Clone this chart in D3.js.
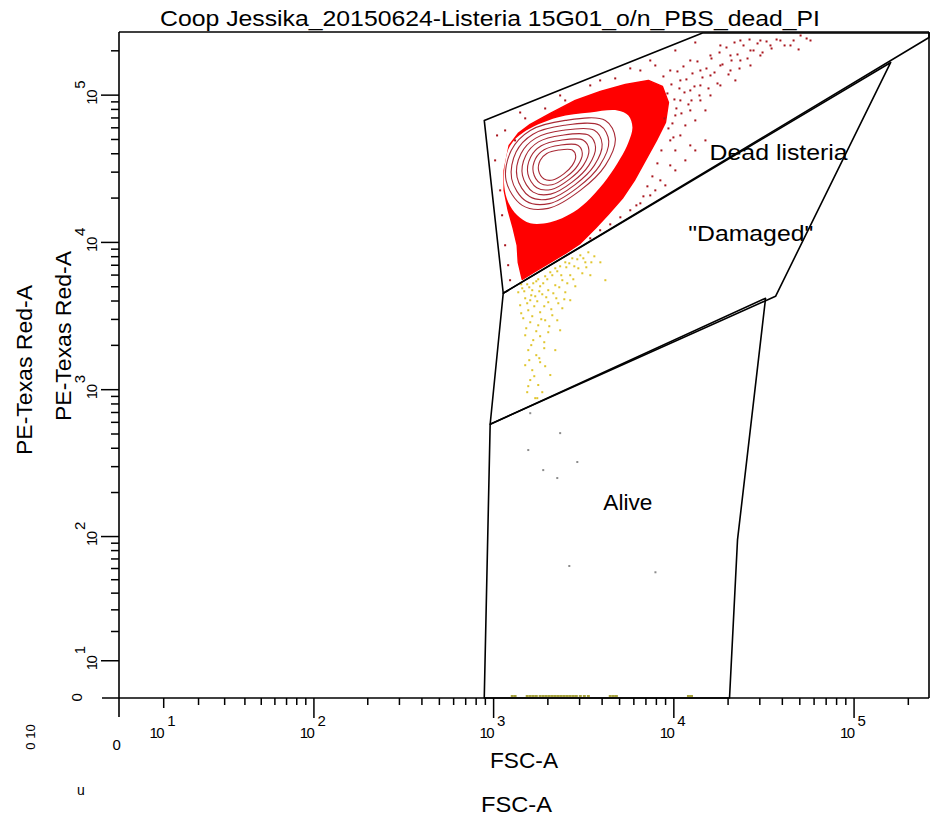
<!DOCTYPE html>
<html>
<head>
<meta charset="utf-8">
<script src="https://cdn.jsdelivr.net/npm/d3@7"></script>
<style>
  body { margin: 0; background: #fff; }
  svg text { font-family: "Liberation Sans", Arial, sans-serif; fill: #000; }
  .tick-label { font-size: 15px; letter-spacing: -1.5px; }
</style>
</head>
<body>
<svg id="chart" width="932" height="817"></svg>
<script>
const title = 'Coop Jessika_20150624-Listeria 15G01_o/n_PBS_dead_PI';
const xLabel = 'FSC-A';
const yLabel = 'PE-Texas Red-A';
const axisMax = 262144;

const majorTicks = [10, 100, 1000, 10000, 100000];
const majorExponents = ['1', '2', '3', '4', '5'];
const minorTicks = [20, 30, 40, 50, 60, 70, 80, 90,
                    200, 300, 400, 500, 600, 700, 800, 900,
                    2000, 3000, 4000, 5000, 6000, 7000, 8000, 9000,
                    20000, 30000, 40000, 50000, 60000, 70000, 80000, 90000,
                    200000];

// gates [FSC-A, PE-Texas Red-A]
const deadGate = [[893, 66830], [14510, 262144], [262144, 262144], [262144, 244300], [1138, 4479]];
const damagedGate = [[1138, 4479], [160700, 165400], [36910, 4274], [963, 578]];
const aliveGate = [[963, 578], [32490, 4143], [22700, 94], [20500, 0], [893, 0]];

const gateLabels = [
  { name: 'Dead listeria', x: 15900, y: 36000, width: 138 },
  { name: '"Damaged"', x: 12100, y: 10100, width: 125 },
  { name: 'Alive', x: 4090, y: 150, width: 49 }
];

// dense part of the dead population and the white core inside the outer contour
const denseRed = [[1167, 33090], [1228, 45230], [1379, 54550], [1607, 62780], [2076, 74580],
  [2858, 91350], [3936, 105100], [5418, 117300], [7273, 124900], [8698, 113700],
  [9393, 88530], [9040, 64770], [8057, 48900], [6998, 35780], [6080, 26180],
  [5214, 19760], [4359, 15390], [3692, 12370], [3047, 9784], [2515, 8369],
  [2076, 7270], [1713, 6318], [1451, 5576], [1379, 7270], [1361, 9490],
  [1293, 12370], [1213, 16400], [1152, 22390], [1152, 30600]];
const coreWhite = [[1152, 24210], [1167, 34670], [1245, 45230], [1470, 55410], [2270, 70030],
  [3463, 75740], [4891, 78150], [5631, 72260], [5930, 59910], [5631, 47400],
  [5083, 36920], [4305, 27010], [3463, 19760], [2786, 15880], [2076, 13580],
  [1607, 13370], [1361, 15150], [1213, 18560]];

const contour1 = [[1180, 26180], [1260, 41800], [1607, 57150], [2515, 66830], [4196, 66830], [4766, 50460], [4196, 33090], [3047, 22390], [2023, 16900], [1451, 17710]];
const contour2 = [[1267, 26850], [1341, 40800], [1664, 53860], [2480, 61900], [3910, 61900], [4383, 48140], [3910, 33090], [2943, 23360], [2045, 18190], [1520, 18970]];
const contour3 = [[1358, 27570], [1427, 39720], [1724, 50690], [2445, 57250], [3645, 57250], [4027, 46000], [3645, 33090], [2840, 24400], [2063, 19610], [1593, 20320]];
const contour4 = [[1455, 28300], [1518, 38680], [1785, 47770], [2411, 53040], [3397, 53040], [3701, 43910], [3397, 33090], [2744, 25450], [2084, 21100], [1668, 21770]];
const contour5 = [[1559, 29020], [1616, 37730], [1850, 44940], [2377, 49040], [3167, 49040], [3402, 41900], [3167, 33090], [2647, 26600], [2105, 22710], [1747, 23320]];
const contour6 = [[1670, 29750], [1718, 36740], [1918, 42290], [2344, 45370], [2951, 45370], [3126, 40040], [2951, 33090], [2558, 27730], [2124, 24430], [1829, 24980]];
const contour7 = [[1787, 30560], [1827, 35840], [1985, 39850], [2311, 42030], [2750, 42030], [2873, 38210], [2750, 33090], [2467, 28970], [2146, 26340], [1918, 26760]];

// sparse events
const deadDots = [[9616, 145900], [10940, 124900], [12420, 170600], [14130, 145900], [16070, 184500],
  [18240, 215800], [20750, 184500], [23550, 233200], [26790, 199500], [30410, 233200],
  [34590, 215800], [39260, 233200], [44670, 215800], [50820, 252100], [57680, 233200],
  [12420, 106800], [14130, 115500], [16070, 135000], [18240, 157800], [20750, 145900],
  [23550, 170600], [26790, 157800], [30410, 184500], [10940, 91350], [12420, 78150],
  [14130, 91350], [16070, 98760], [18240, 115500], [22090, 124900], [10260, 72260],
  [11660, 61800], [13240, 66830], [15070, 78150], [10940, 52850], [12420, 45230],
  [15070, 48900], [10260, 41800], [9616, 33090], [8472, 26180], [7447, 20700],
  [6561, 18280], [5768, 16400], [5082, 14690], [4467, 13160], [9030, 24210],
  [7943, 22390], [3926, 12000], [3459, 10580], [10260, 30600], [11660, 35780],
  [13240, 41800], [9616, 48900], [1052, 52850], [1026, 35780], [1094, 22390],
  [1122, 15170], [1166, 9490], [1212, 6950], [1242, 5495], [1324, 48900],
  [1166, 57150], [1507, 69020], [1945, 80550], [2512, 91350], [3459, 115500],
  [4760, 128900], [6561, 145900], [7943, 157800], [1413, 75640], [2355, 98760],
  [3926, 124900], [5768, 150700], [7447, 170600], [10260, 199500], [13240, 226000],
  [8810, 132900], [9273, 101900], [9759, 117300], [10140, 92770], [10540, 143700],
  [10810, 110200], [11380, 155400], [11820, 126900], [12130, 85810], [12770, 139300],
  [13100, 113700], [13610, 168000], [13960, 98760], [14510, 130800], [15270, 150500],
  [15670, 110200], [16280, 176000], [16920, 141400], [17580, 119100], [18040, 193300],
  [18740, 160300], [19720, 209000], [20240, 137100], [21030, 170600], [21850, 226000],
  [22700, 187400], [23290, 150500], [24510, 215800], [25800, 176000], [26470, 236800],
  [27860, 199500], [29320, 222600], [31260, 193300], [32900, 229600], [35080, 205800],
  [37400, 236800], [41420, 215800], [46470, 233200], [49550, 202700], [54890, 240600],
  [8925, 68950], [9393, 58970], [10010, 51240], [8587, 41800], [8159, 34140],
  [7653, 27860], [7180, 23840], [6823, 20390], [6237, 17710], [10400, 80620],
  [11530, 103500], [11090, 74580], [12610, 91350], [9886, 63770]];
const damagedDots = [[1379, 4550], [1451, 4844], [1546, 5156], [1649, 4700], [1736, 5404],
  [1824, 4998], [1945, 5845], [2076, 6220], [2213, 6620], [2355, 6830], [2515, 7270],
  [2750, 7740], [3047, 8110], [3376, 8500], [1507, 4143], [1607, 4018], [1713, 4274],
  [1874, 4410], [2023, 4700], [2213, 5080], [2421, 5495], [2679, 5940], [2971, 6620],
  [3249, 7270], [1413, 3715], [1567, 3435], [1692, 3657], [1824, 3330], [2023, 3893],
  [2242, 4143], [2515, 4550], [2858, 4998], [1470, 3032], [1607, 2848], [1780, 2716],
  [1945, 2937], [2130, 3177], [2421, 3544], [2679, 4018], [1507, 2323], [1670, 2153],
  [1824, 2289], [2023, 2436], [1567, 1841], [1736, 1702], [1922, 1898], [1507, 1455],
  [1649, 1346], [1824, 1525], [1607, 1153], [1780, 1067], [1546, 954], [1713, 869],
  [2355, 2512], [2213, 1841], [2076, 1247], [3463, 5940], [3936, 7270], [4196, 5495],
  [1432, 5156], [1489, 4622], [1587, 4920], [1670, 5237], [1780, 5576], [1897, 5237],
  [1998, 5576], [2130, 5940], [2270, 6318], [2389, 5940], [2548, 6725], [2647, 7158],
  [2822, 6830], [2932, 7621], [3167, 7740], [3290, 6725], [3508, 7270], [3645, 7986],
  [1628, 4343], [1804, 4622], [1972, 4209], [2158, 4479], [2329, 4920], [2580, 5237],
  [2786, 5576], [3126, 6124], [1546, 3832], [1758, 3954], [1922, 3657], [2103, 3489],
  [2300, 3832], [2483, 4079], [1432, 3278], [1649, 3129], [1850, 2985], [2050, 2676],
  [2270, 2937], [1527, 2593], [1736, 2475], [1922, 2084], [1628, 1991], [1804, 1623],
  [1587, 1574], [1945, 1432], [1692, 1225], [1567, 1048], [1874, 954], [1758, 869]];
const aliveDots = [[1607, 687], [2355, 503], [1567, 386], [2932, 320], [1897, 282],
  [2270, 249], [2647, 62], [7955, 56]];
const floorDots = [1277, 1324, 1546, 1607, 1670, 1736, 1824, 1897, 1972, 2050, 2130, 2213,
  2300, 2389, 2483, 2580, 2679, 2786, 2895, 3047, 3207, 3376, 4467, 4647, 4829, 12130, 12610];

function asinhScale(cofactor, max, range) {
  const lin = d3.scaleLinear().domain([0, Math.asinh(max / cofactor)]).range(range);
  const s = v => lin(Math.asinh(v / cofactor));
  s.range = () => lin.range();
  s.domain = () => [0, max];
  s.copy = () => asinhScale(cofactor, max, range);
  return s;
}

const x = asinhScale(16.8, axisMax, [119, 929]);
const y = asinhScale(16, axisMax, [698, 33]);

const svg = d3.select('#chart');

const line = d3.line().x(d => x(d[0])).y(d => y(d[1]));
const smooth = d3.line().x(d => x(d[0])).y(d => y(d[1])).curve(d3.curveCatmullRomClosed);

// populations
svg.append('path').attr('d', line(denseRed) + 'Z').attr('fill', '#ff0000')
  .attr('stroke', '#f00').attr('stroke-width', 1.5).attr('stroke-linejoin', 'round');
svg.append('path').attr('d', smooth(coreWhite)).attr('fill', '#fff');

svg.append('g').selectAll('path')
  .data([contour1, contour2, contour3, contour4, contour5, contour6, contour7])
  .enter().append('path')
  .attr('d', smooth)
  .attr('fill', 'none')
  .attr('stroke', '#a82a36')
  .attr('stroke-width', 1.1);

const dots = function(data, color, size) {
  svg.append('g').selectAll('rect')
    .data(data)
    .enter().append('rect')
    .attr('x', d => x(d[0]) - size / 2)
    .attr('y', d => y(d[1]) - size / 2)
    .attr('width', size)
    .attr('height', size)
    .attr('fill', color);
};
dots(deadDots, '#a8141c', 2);
dots(damagedDots, '#e0c52e', 2);
dots(aliveDots, '#8c8c8c', 2);

svg.append('g').selectAll('rect')
  .data(floorDots)
  .enter().append('rect')
  .attr('x', d => x(d) - 1.5)
  .attr('y', y(0) - 3)
  .attr('width', 3)
  .attr('height', 2)
  .attr('fill', '#a6a23c');

// gates
svg.append('g').selectAll('path')
  .data([deadGate, damagedGate, aliveGate])
  .enter().append('path')
  .attr('d', d => line(d) + 'Z')
  .attr('fill', 'none')
  .attr('stroke', '#000')
  .attr('stroke-width', 1.6)
  .attr('stroke-linejoin', 'round');

svg.append('g').selectAll('text')
  .data(gateLabels)
  .enter().append('text')
  .attr('x', d => x(d.x))
  .attr('y', d => y(d.y))
  .attr('font-size', 22)
  .attr('textLength', d => d.width)
  .attr('lengthAdjust', 'spacingAndGlyphs')
  .text(d => d.name);

// frame
const x0 = x(0), x1 = x(axisMax), y0 = y(0), y1 = y(axisMax);
const frame = svg.append('g').attr('stroke', '#000').attr('stroke-width', 1.6);
frame.append('line').attr('x1', x0).attr('x2', x0).attr('y1', y1 - 1).attr('y2', y0 + 19);
frame.append('line').attr('x1', x0 - 17).attr('x2', x1).attr('y1', y0).attr('y2', y0);
frame.append('line').attr('x1', x0).attr('x2', x1).attr('y1', y1 - 1).attr('y2', y1 - 1);
frame.append('line').attr('x1', x1).attr('x2', x1).attr('y1', y1 - 1).attr('y2', y0);

// axes
const styleAxis = g => {
  g.select('.domain').remove();
  g.selectAll('line').attr('stroke', '#000').attr('stroke-width', 1.5);
};
svg.append('g').attr('transform', `translate(0,${y0})`)
  .call(d3.axisBottom(x).tickValues(minorTicks).tickSize(7).tickFormat(''))
  .call(styleAxis);
svg.append('g').attr('transform', `translate(0,${y0})`)
  .call(d3.axisBottom(x).tickValues(majorTicks.slice(1)).tickSize(20).tickFormat(''))
  .call(styleAxis);
svg.append('g').attr('transform', `translate(0,${y0})`)
  .call(d3.axisBottom(x).tickValues(majorTicks.slice(0, 1)).tickSize(10).tickFormat(''))
  .call(styleAxis);
svg.append('g').attr('transform', `translate(${x0},0)`)
  .call(d3.axisLeft(y).tickValues(minorTicks).tickSize(8).tickFormat(''))
  .call(styleAxis);
svg.append('g').attr('transform', `translate(${x0},0)`)
  .call(d3.axisLeft(y).tickValues(majorTicks).tickSize(18).tickFormat(''))
  .call(styleAxis);

// tick labels: "10" with the exponent raised after it
const xLab = svg.append('g');
majorTicks.forEach((v, i) => {
  xLab.append('text').attr('class', 'tick-label').attr('x', x(v)).attr('y', y0 + 40)
    .attr('text-anchor', 'end').text('10');
  xLab.append('text').attr('class', 'tick-label').attr('x', x(v) + 4).attr('y', y0 + 28)
    .text(majorExponents[i]);
});
xLab.append('text').attr('class', 'tick-label').attr('x', x0 - 3).attr('y', y0 + 52)
  .attr('text-anchor', 'middle').text('0');

const yLab = svg.append('g');
majorTicks.forEach((v, i) => {
  yLab.append('text').attr('class', 'tick-label')
    .attr('transform', `translate(97,${y(v) + 10}) rotate(-90)`).text('10');
  yLab.append('text').attr('class', 'tick-label')
    .attr('transform', `translate(85,${y(v) - 6}) rotate(-90)`).text(majorExponents[i]);
});
yLab.append('text').attr('class', 'tick-label')
  .attr('transform', `translate(82,${y0}) rotate(-90)`).attr('text-anchor', 'middle').text('0');

// titles, with the doubled labels of the pasted picture
svg.append('text').attr('x', 490).attr('y', 26).attr('text-anchor', 'middle')
  .attr('font-size', 22).attr('textLength', 660).attr('lengthAdjust', 'spacingAndGlyphs').text(title);
svg.append('text').attr('x', 490).attr('y', 768).attr('font-size', 22)
  .attr('textLength', 68).attr('lengthAdjust', 'spacingAndGlyphs').text(xLabel);
svg.append('text').attr('x', 481).attr('y', 812).attr('font-size', 22)
  .attr('textLength', 71).attr('lengthAdjust', 'spacingAndGlyphs').text(xLabel);
svg.append('text').attr('transform', 'translate(32,370) rotate(-90)').attr('text-anchor', 'middle')
  .attr('font-size', 22).attr('textLength', 170).attr('lengthAdjust', 'spacingAndGlyphs').text(yLabel);
svg.append('text').attr('transform', 'translate(71,336) rotate(-90)').attr('text-anchor', 'middle')
  .attr('font-size', 22).attr('textLength', 170).attr('lengthAdjust', 'spacingAndGlyphs').text(yLabel);
svg.append('text').attr('transform', 'translate(35,737) rotate(-90)').attr('text-anchor', 'middle')
  .attr('font-size', 13).attr('fill', '#444').text('0 10');
svg.append('text').attr('x', 81).attr('y', 795).attr('text-anchor', 'middle')
  .attr('font-size', 14).text('u');
</script>
</body>
</html>
